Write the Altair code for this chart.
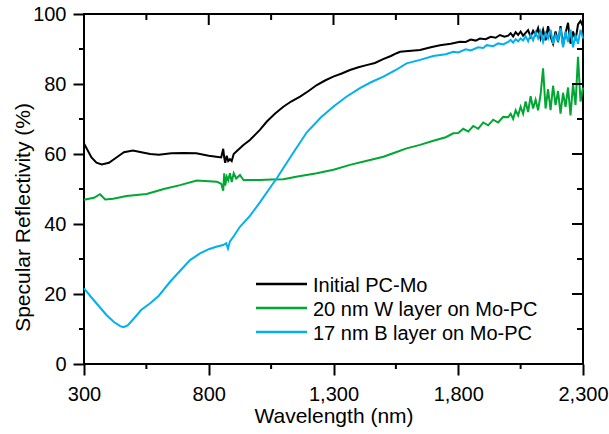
import altair as alt
import pandas as pd

FONT = "Liberation Sans"

# ---------------- data ----------------
series_names = ["Initial PC-Mo", "20 nm W layer on Mo-PC", "17 nm B layer on Mo-PC"]
series_colors = ["#000000", "#00a733", "#00b0f0"]

black_wl = [300, 315, 330, 350, 371, 400, 430, 460, 496, 530, 565, 600, 650, 700, 750,
            800, 830, 850, 858, 862, 866, 872, 878, 885, 892, 900, 915, 939, 965, 1005,
            1032, 1065, 1099, 1130, 1166, 1200, 1233, 1266, 1299, 1333, 1366, 1400, 1432,
            1466, 1499, 1530, 1553, 1567, 1600, 1647, 1690, 1727, 1770,
            1807, 1830, 1850, 1870, 1887, 1910, 1930, 1950, 1967, 1985,
            2000, 2010, 2020, 2030, 2040, 2050, 2060, 2070, 2080, 2090, 2100,
            2110, 2120, 2130, 2140, 2150, 2160, 2170, 2180, 2190, 2200,
            2210, 2220, 2230, 2240, 2250, 2260, 2270, 2280, 2290, 2300]
black_val = [63, 61, 59, 57.5, 57, 57.5, 59, 60.5, 61, 60.5, 60, 59.8, 60.2, 60.3, 60.2,
             59.5, 59.2, 59, 61.5, 59, 57.5, 59.5, 58, 58.5, 58, 60, 61, 62.6, 64, 66.9,
             69.2, 71.5, 73.5, 75, 76.4, 78, 79.7, 81, 82.1, 83, 84, 84.8, 85.4,
             86, 87.1, 88, 88.8, 89.2, 89.4, 89.7, 90.5, 91.1, 91.5,
             92.1, 92.0, 92.7, 92.4, 93.0, 92.8, 93.5, 93.2, 94.0, 93.5,
             93.8, 94.5, 93.6, 94.8, 94.0, 95.0, 93.8, 94.6, 95.4, 93.5, 95.2,
             94.0, 96.0, 93.0, 95.5, 92.5, 96.5, 93.5, 91.5, 95.0, 92.0,
             96.5, 91.0, 94.5, 97.5, 91.5, 95.0, 92.5, 97.0, 98.0, 96.5]

green_wl = [300, 320, 340, 364, 385, 417, 470, 551, 620, 685, 752, 800, 832, 850, 858,
            862, 866, 872, 878, 885, 892, 900, 910, 925, 940, 952, 1005, 1050, 1099, 1150,
            1233, 1300, 1366, 1430, 1500, 1550, 1593, 1647, 1700, 1750, 1780,
            1800, 1820, 1840, 1860, 1880, 1900, 1920, 1940, 1960, 1980,
            2000, 2010, 2020, 2030, 2040, 2050, 2060, 2070, 2080, 2090, 2100,
            2110, 2120, 2130, 2140, 2150, 2160, 2170, 2180, 2190, 2200,
            2210, 2220, 2230, 2240, 2250, 2260, 2270, 2280, 2290, 2300]
green_val = [46.9, 47.2, 47.5, 48.5, 47, 47.2, 48, 48.6, 50, 51.1, 52.4, 52.2, 52.1, 51.5, 49.5,
             54.5, 51, 53.5, 52.5, 54.5, 52, 54.5, 53, 54, 52.5, 52.6, 52.6, 52.7, 52.8, 53.5,
             54.5, 55.5, 56.9, 58, 59.2, 60.5, 61.6, 62.6, 63.8, 64.8, 65.9,
             66.0, 67.2, 66.4, 68.0, 67.2, 69.0, 68.2, 69.8, 69.0, 70.6,
             70.5, 71.5, 70.0, 72.5, 71.0, 73.5, 71.5, 75.0, 72.0, 76.5, 73.0,
             75.5, 72.5, 77.0, 84.5, 73.0, 78.5, 72.5, 79.5, 74.0, 78.0,
             71.5, 77.5, 73.5, 79.0, 71.0, 80.0, 74.0, 87.8, 75.0, 79.0]

blue_wl = [300, 330, 360, 390, 420, 445, 458, 475, 500, 530, 564, 600, 645, 690, 725,
           765, 800, 830, 858, 870, 877, 885, 900, 925, 965, 1005, 1045, 1072, 1110, 1152,
           1193, 1250, 1299, 1350, 1406, 1450, 1500, 1550, 1593, 1647, 1700, 1750,
           1780, 1800, 1830, 1850, 1880, 1900, 1914, 1940, 1960, 1980,
           2000, 2010, 2020, 2030, 2040, 2050, 2060, 2070, 2080, 2090, 2100,
           2110, 2120, 2130, 2140, 2150, 2160, 2170, 2180, 2190, 2200,
           2210, 2220, 2230, 2240, 2250, 2260, 2270, 2280, 2290, 2300]
blue_val = [21.6, 19, 16.5, 14, 12, 10.8, 10.5, 11, 13, 15.5, 17.3, 19.5, 23.5, 27, 29.7,
            31.6, 32.8, 33.5, 34, 34.5, 33, 35, 36.5, 39.2, 42.3, 46.2, 50.3, 53, 57.2, 61.8,
            66.2, 70.5, 73.5, 76.3, 78.8, 80.5, 82.1, 84, 85.9, 86.9, 88, 88.5,
            89.2, 89.0, 89.9, 89.6, 90.5, 90.3, 91.1, 90.8, 91.6, 91.3,
            92.0, 92.6, 91.8, 92.8, 92.2, 93.0, 92.4, 93.6, 92.2, 94.0, 92.5,
            94.8, 93.0, 95.0, 92.0, 94.5, 93.0, 95.5, 91.5, 94.0, 92.5,
            96.0, 90.5, 95.0, 92.0, 95.5, 90.5, 94.0, 91.5, 95.5, 93.0]

x_major = [300, 800, 1300, 1800, 2300]
x_minor = [550, 1050, 1550, 2050]
y_major = [0, 20, 40, 60, 80, 100]
y_minor = [10, 30, 50, 70, 90]

# ---------------- layout constants ----------------
W, H = 499, 350
x_scale = alt.Scale(domain=[300, 2300], nice=False, zero=False)
y_scale = alt.Scale(domain=[0, 100], nice=False, zero=False)

x_axis = alt.Axis(values=x_major, format=",d", tickSize=11, tickWidth=2, tickColor="black",
                  labelFontSize=20, labelFont=FONT, labelColor="black", labelPadding=9,
                  labelFlush=False, labelOverlap=False, domain=False, grid=False,
                  title="Wavelength (nm)", titleFont=FONT, titleFontSize=21,
                  titleFontWeight="normal", titleColor="black", titleX=W / 2,
                  titleY=58, titleAlign="center", titleBaseline="alphabetic")
y_axis = alt.Axis(values=y_major, tickSize=11, tickWidth=2, tickColor="black",
                  labelFontSize=20, labelFont=FONT, labelColor="black", labelPadding=7,
                  labelOverlap=False, labelFlush=False, domain=False, grid=False,
                  title="Specular Reflectivity (%)", titleFont=FONT, titleFontSize=21,
                  titleFontWeight="normal", titleColor="black", titleAngle=270,
                  titleX=-61, titleY=203, titleAlign="center", titleBaseline="middle")

X = lambda: alt.X("wl:Q", scale=x_scale, axis=x_axis)
Y = lambda: alt.Y("val:Q", scale=y_scale, axis=y_axis)

layers = []

# data series
series_data = [(black_wl, black_val), (green_wl, green_val), (blue_wl, blue_val)]
for i, (wl, val) in enumerate(series_data):
    df = pd.DataFrame({"wl": wl, "val": val})
    layers.append(alt.Chart(df).mark_line(color=series_colors[i], strokeWidth=2).encode(
        x=X(), y=Y(), order="wl:Q"))

# extra ticks drawn as rules
def xrule(vals, y0, y1):
    return alt.Chart(pd.DataFrame({"wl": vals})).mark_rule(color="black", strokeWidth=2).encode(
        x=X(), y=alt.value(y0), y2=alt.value(y1))

def yrule(vals, x0, x1):
    return alt.Chart(pd.DataFrame({"val": vals})).mark_rule(color="black", strokeWidth=2).encode(
        y=Y(), x=alt.value(x0), x2=alt.value(x1))

layers += [
    xrule(x_minor, H, H + 5),      # bottom minor (outward)
    xrule(x_major, 0, 11),         # top major (inward)
    xrule(x_minor, 0, 6),          # top minor (inward)
    yrule(y_minor, 0, -5),         # left minor (outward)
    yrule(y_major, W, W - 11),     # right major (inward)
    yrule(y_minor, W, W - 6),      # right minor (inward)
]

# legend
leg_line_y = [270, 294, 318]
for name, col, ly in zip(series_names, series_colors, leg_line_y):
    ldf = pd.DataFrame({"label": [name]})
    layers.append(alt.Chart(ldf).mark_rule(color=col, strokeWidth=2.5).encode(
        x=alt.value(172), x2=alt.value(223), y=alt.value(ly)))
    layers.append(alt.Chart(ldf).mark_text(font=FONT, fontSize=20, color="black",
                                           align="left", baseline="middle").encode(
        x=alt.value(229), y=alt.value(ly + 2), text="label:N"))

chart = alt.layer(*layers).properties(
    width=W, height=H,
    autosize=alt.AutoSizeParams(type="none"),
    padding={"left": 84, "top": 14, "right": 26, "bottom": 70},
    background="white",
).configure_view(stroke="black", strokeWidth=2)

chart.save("out.html", embed_options={"renderer": "svg", "actions": False})
